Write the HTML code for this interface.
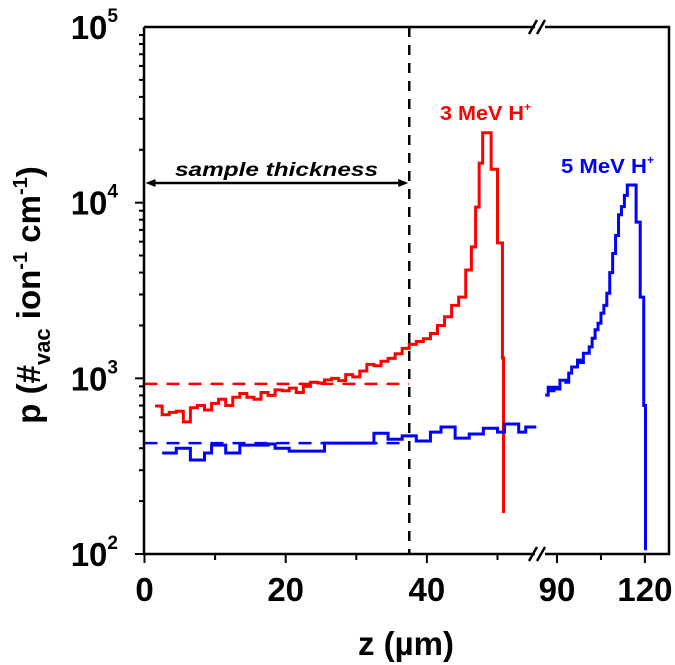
<!DOCTYPE html>
<html><head><meta charset="utf-8"><style>
html,body{margin:0;padding:0;background:#fff;}
svg{display:block;font-family:"Liberation Sans",Arial,sans-serif;font-weight:bold;}
</style></head><body>
<svg id="chart" width="675" height="665" viewBox="0 0 675 665">
<g id="marks"></g>
<g id="axes"></g>
</svg>
<script>
// ---- data ----
var yTickLabels = ["2","3","4","5"];
var xTicksLeft = [0, 20, 40];
var xMinorLeft = [10, 30, 50];
var xTicksRight = [90, 120];
var xMinorRight = [105];
var redZ = [1.5,2.5,3.5,4.5,5.5,6.5,7.5,8.5,9.5,10.5,11.5,12.5,13.5,14.5,15.5,16.5,17.5,18.5,19.5,20.5,21.5,22.5,23.5,24.5,25.5,26.5,27.5,28.5,29.5,30.5,31.5,32.5,33.5,34.5,35.5,36.5,37.5,38.5,39.5,40.5,41.5,42.5,43.5,44.5,45.5,46.3,46.9,47.4,47.9,49.1,50.0,50.7];
var redV = [696,620,640,650,565,680,700,660,720,760,700,780,820,780,760,830,800,860,850,880,830,900,950,940,980,1000,970,1050,1020,1100,1200,1180,1250,1300,1380,1480,1560,1620,1680,1800,2000,2240,2600,2900,4140,5600,9440,16800,25000,15500,5900,1306];
var redEnd = 50.85, redDrop = 171;
var blueLZ = [2.5,3.5,4.5,6.5,8.5,9.5,11.5,13.5,17.5,18.5,20.5,25.5,30.5,32.5,34.5,36.5,38.5,40.5,42,44,46,48,50,51,53,54];
var blueLV = [376,376,400,343,376,417,376,417,423,400,385,428,428,487,450,470,440,494,528,457,482,520,494,550,494,528];
var blueLEnd = 55.5;
var blueRZ = [86,87,88,89,90,91,92,93,94,95,96,97,98,99,100,101,102,103,104,105,106,107,108,109,110,111,112,113,114,117,118.4,119.6];
var blueRV = [803,890,850,890,870,975,975,950,1070,1160,1160,1270,1230,1390,1390,1510,1690,1890,2060,2350,2600,3050,4000,5140,6500,8530,9500,11000,12600,7750,2900,700];
var blueREnd = 120.2, blueRDrop = 105;
var redAvg = 930, blueAvg = 428, thickness = 37.5;

// ---- scales ----
var L=144, R=669, T=27, B=554;
function y(v){ return B - (Math.log10(v) - 2) * (B - T) / 3; }
function x(z){ return z < 70 ? 144.5 + z * 7.06 : 557 + (z - 90) * 2.93; }

var NS="http://www.w3.org/2000/svg";
var marks=document.getElementById('marks'), axes=document.getElementById('axes');
function mk(tag, attrs, parent){ var e=document.createElementNS(NS,tag); for(var k in attrs) e.setAttribute(k,attrs[k]); parent.appendChild(e); return e; }

function stepPath(zs, vs, end, drop){
  var d = "M" + x(zs[0]) + "," + y(vs[0]);
  for (var i=0;i<zs.length;i++){
    if (i>0) d += " L" + x(zs[i]) + "," + y(vs[i]);
    var ze = i<zs.length-1 ? zs[i+1] : end;
    d += " L" + x(ze) + "," + y(vs[i]);
  }
  if (drop) d += " L" + x(end) + "," + y(drop);
  return d;
}
var p;
p = mk('path',{d:stepPath(redZ,redV,redEnd,redDrop),fill:'none',stroke:'#f00','stroke-width':3},marks);


p = mk('path',{d:stepPath(blueLZ,blueLV,blueLEnd,null),fill:'none',stroke:'#00f','stroke-width':3},marks);


p = mk('path',{d:stepPath(blueRZ,blueRV,blueREnd,blueRDrop),fill:'none',stroke:'#00f','stroke-width':3},marks);



p = mk('line',{x1:x(0),x2:x(thickness),y1:y(redAvg),y2:y(redAvg),stroke:'#f00','stroke-width':2.5,'stroke-dasharray':'13,9'},marks);


p = mk('line',{x1:x(0),x2:x(thickness),y1:y(blueAvg),y2:y(blueAvg),stroke:'#00f','stroke-width':2.5,'stroke-dasharray':'13,9'},marks);


p = mk('line',{x1:x(thickness),x2:x(thickness),y1:T,y2:B,stroke:'#000','stroke-width':2.5,'stroke-dasharray':'10,8'},marks);



// arrow
var ay=183;
p = mk('line',{x1:x(0)+6,x2:x(thickness)-6,y1:ay,y2:ay,stroke:'#000','stroke-width':2.5},marks);


mk('path',{d:'M'+(x(0)+1)+','+ay+' l10,-4 l0,8 z',fill:'#000'},marks);
mk('path',{d:'M'+(x(thickness)-1)+','+ay+' l-10,-4 l0,8 z',fill:'#000'},marks);
p = mk('text',{x:175,y:176,'font-size':19,'font-style':'italic',textLength:203,lengthAdjust:'spacingAndGlyphs',fill:'#000'},marks);
p.textContent='sample thickness';



p = mk('text',{x:440,y:120,'font-size':20,fill:'#f00'},marks);
p.innerHTML='<tspan textLength="84" lengthAdjust="spacingAndGlyphs">3 MeV H</tspan><tspan dy="-9" font-size="12">+</tspan>';


p = mk('text',{x:561,y:173,'font-size':20,fill:'#00f'},marks);
p.innerHTML='<tspan textLength="86" lengthAdjust="spacingAndGlyphs">5 MeV H</tspan><tspan dy="-9" font-size="12">+</tspan>';



// frame with breaks
var fr = 'M'+L+','+T+' L'+L+','+B+' L535,'+B+' M545,'+B+' L'+R+','+B+' L'+R+','+T+' L545,'+T+' M535,'+T+' L'+L+','+T;
p = mk('path',{d:fr,fill:'none',stroke:'#000','stroke-width':2.5},axes);


[T,B].forEach(function(yy){
  mk('line',{x1:529,y1:yy+7,x2:537,y2:yy-7,stroke:'#000','stroke-width':2.5},axes);
  mk('line',{x1:537,y1:yy+7,x2:545,y2:yy-7,stroke:'#000','stroke-width':2.5},axes);
});

// y ticks
for (var dec=2; dec<5; dec++){
  for (var m=1;m<10;m++){
    var v=m*Math.pow(10,dec), yy=y(v);
    mk('line',{x1:L-(m==1?9:5),x2:L,y1:yy,y2:yy,stroke:'#000','stroke-width':2},axes);
  }
}
for (var i=0;i<yTickLabels.length;i++){
  var yy=y(Math.pow(10,+yTickLabels[i]));
  p=mk('text',{x:118,y:yy+12,'font-size':33,'text-anchor':'end',fill:'#000'},axes);
  p.innerHTML='10<tspan dy="-17" font-size="19">'+yTickLabels[i]+'</tspan>';
  
  
}
// x ticks
function xt(list, major){
  list.forEach(function(z){
    var xx=x(z);
    mk('line',{x1:xx,x2:xx,y1:B,y2:B+(major?9:6),stroke:'#000','stroke-width':2},axes);
    if(major){
      var t=mk('text',{x:xx,y:601,'font-size':33,'text-anchor':'middle',fill:'#000'},axes);
      t.textContent=z;
      
      
    }
  });
}
xt(xTicksLeft,true); xt(xMinorLeft,false); xt(xTicksRight,true); xt(xMinorRight,false);

p=mk('text',{x:406,y:655,'font-size':33,'text-anchor':'middle',fill:'#000'},axes);
p.textContent='z (µm)';


p=mk('text',{x:0,y:0,'font-size':33,'text-anchor':'middle',fill:'#000',transform:'translate(40,295) rotate(-90)'},axes);
p.innerHTML='p (#<tspan dy="10" font-size="22">vac</tspan><tspan dy="-10"> ion</tspan><tspan dy="-13" font-size="20">-1</tspan><tspan dy="13"> cm</tspan><tspan dy="-13" font-size="20">-1</tspan><tspan dy="13">)</tspan>';


</script>
</body></html>
